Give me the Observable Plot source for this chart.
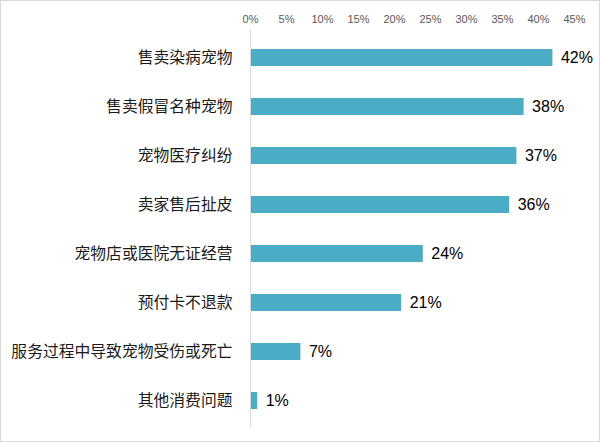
<!DOCTYPE html>
<html><head><meta charset="utf-8">
<script src="https://cdn.jsdelivr.net/npm/d3@7"></script>
<script src="https://cdn.jsdelivr.net/npm/@observablehq/plot@0.6"></script>
<style>
body{margin:0;background:#fff;}
#wrap{position:relative;width:600px;height:442px;}
#border{position:absolute;left:0;top:0;width:598px;height:440px;border:1px solid #d9d9d9;pointer-events:none;}
</style>
</head><body>
<div id="wrap"><div id="border"></div></div>
<script>
const categories = ["售卖染病宠物","售卖假冒名种宠物","宠物医疗纠纷","卖家售后扯皮","宠物店或医院无证经营","预付卡不退款","服务过程中导致宠物受伤或死亡","其他消费问题"];
const values = [42, 38, 37, 36, 24, 21, 7, 1];
const xTicks = [0,5,10,15,20,25,30,35,40,45];

const data = categories.map((c,i)=>({category:c, value:values[i]}));

const chart = Plot.plot({
  width: 600,
  height: 442,
  marginTop: 30,
  marginBottom: 15,
  marginLeft: 250,
  marginRight: 26,
  style: {fontFamily: "'Microsoft YaHei','Noto Sans CJK SC',sans-serif", background: "transparent"},
  x: {domain: [0,45], axis: null},
  y: {domain: categories, paddingInner: 0.66, paddingOuter: 0.33, axis: null},
  marks: [
    Plot.axisX({anchor: "top", ticks: xTicks, tickFormat: d => d + "%", tickSize: 0, tickPadding: 8, fontSize: 11, fill: "#595959", fontFamily: "'Liberation Sans','Noto Sans CJK SC',sans-serif", label: null}),
    Plot.barX(data, {y: "category", x: "value", fill: "#4bacc6"}),
    Plot.ruleX([0], {stroke: "#d9d9d9", strokeWidth: 1}),
    Plot.text(data, {y: "category", x: 0, text: "category", textAnchor: "end", dx: -18, fontSize: 15.8, fill: "#1a1a1a"}),
    Plot.text(data, {y: "category", x: "value", text: d => d.value + "%", textAnchor: "start", dx: 8, fontSize: 16, fill: "#000", fontFamily: "'Liberation Sans',Arial,sans-serif"})
  ]
});
document.getElementById("wrap").prepend(chart);
</script>
</body></html>
